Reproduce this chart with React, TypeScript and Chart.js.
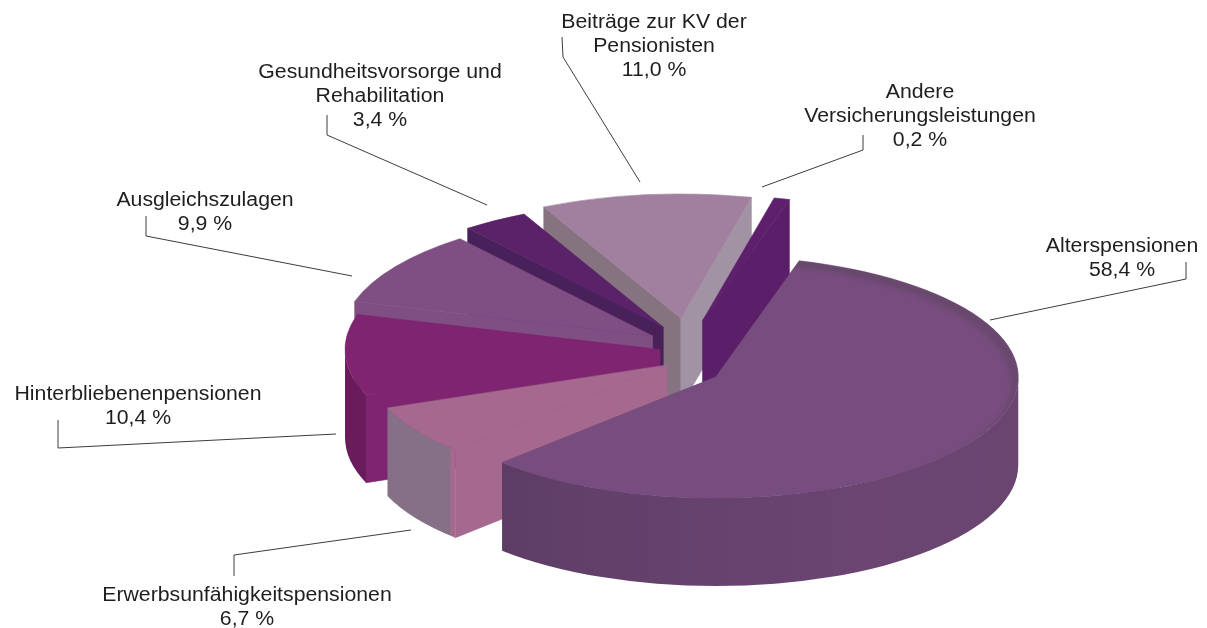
import React, { useEffect, useRef } from "react";
import { Chart, registerables } from "chart.js";

Chart.register(...registerables);

// Slices clockwise from the top, as labelled in the picture.
const categories = [
  ["Alterspensionen"],
  ["Erwerbsunfähigkeitspensionen"],
  ["Hinterbliebenenpensionen"],
  ["Ausgleichszulagen"],
  ["Gesundheitsvorsorge und", "Rehabilitation"],
  ["Beiträge zur KV der", "Pensionisten"],
  ["Andere", "Versicherungsleistungen"],
];
const printedPercent = [58.4, 6.7, 10.4, 9.9, 3.4, 11.0, 0.2];
// Wedge sizes as pictured: equal to the printed values, except that the
// 0,2 % wedge is visibly drawn wider than its value in the reference.
const wedgeShares = [58.4, 6.7, 10.4, 9.9, 3.4, 11.0, 0.8];

// Styling / projection of the exploded pie
const explode = [30, 27, 30, 45, 50, 80, 50];
const lift = [19, 7, -3, -6, -8, -2, -12];
const radiusScale = [0.96, 0.952, 1, 0.985, 1, 0.985, 1];
const topColors = ["#774c7e", "#a5688f", "#7e2470", "#7f4e83", "#5a2268", "#a17f9f", "#5e1f6c"];
const startWallColors = ["#5a3c62", "#a5688f", "#7e2470", "#7f4e83", "#48205a", "#85737f", "#4a1a58"];
const endWallColors = ["#5a3c62", "#867085", "#6a1b5c", "#6e4274", "#48205a", "#a192a4", "#5a1f68"];
const outerWallStops: [number, string][][] = [
  [[0, "#573a5f"], [0.3, "#62406a"], [0.75, "#6c4573"], [1, "#694570"]],
  [[0, "#867085"], [0.137, "#867085"], [0.139, "#a5688f"], [1, "#a5688f"]],
  [[0, "#6a1b5c"], [0.037, "#6a1b5c"], [0.04, "#7e2470"], [1, "#7e2470"]],
  [[0, "#6e4274"], [1, "#6e4274"]],
  [[0, "#48205a"], [1, "#48205a"]],
  [[0, "#85737f"], [1, "#a192a4"]],
  [[0, "#5a1f68"], [1, "#5a1f68"]],
];
const paintOrder = [5, 6, 4, 3, 2, 1, 0];
const squash = 0.4;
const depth = 88;
const pieRadius = 315;
const bevelColor = "#69496e";

const labelCenters = [
  [1122, 246.5], [247, 595.5], [138, 394.5], [205, 200.5], [380, 73], [654, 23], [920, 93],
];
const lineGap = 24;
const leaders = [
  [[1186, 262], [1186, 279], [990, 320]],
  [[234, 576], [234, 555], [411, 530]],
  [[58, 420], [58, 448], [336, 434]],
  [[146, 216], [146, 236], [352, 276]],
  [[327, 115], [327, 135], [487, 205]],
  [[562, 37], [563, 57], [640, 182]],
  [[863, 135], [863, 150], [762, 187]],
];

const piePlugin = {
  id: "extrudedPie",
  beforeDatasetsDraw(chart: any) {
    const { ctx } = chart;
    const arcs = chart.getDatasetMeta(0).data;
    for (const i of paintOrder) {
      const arc = arcs[i];
      const { x, y, startAngle: a0, endAngle: a1, outerRadius } = arc;
      const mid = (a0 + a1) / 2;
      const off = arc.options.offset;
      const ax = x + Math.cos(mid) * off;
      const ay = y + Math.sin(mid) * off * squash + lift[i];
      const r = outerRadius * radiusScale[i];
      const ry = r * squash;
      const pt = (a: number) => [ax + Math.cos(a) * r, ay + Math.sin(a) * ry];
      const face = (a: number, color: string) => {
        const [px, py] = pt(a);
        ctx.beginPath();
        ctx.moveTo(ax, ay);
        ctx.lineTo(px, py);
        ctx.lineTo(px, py + depth);
        ctx.lineTo(ax, ay + depth);
        ctx.closePath();
        ctx.fillStyle = color;
        ctx.strokeStyle = color;
        ctx.lineWidth = 0.6;
        ctx.fill();
        ctx.stroke();
      };
      if (Math.sin(a0 - Math.PI / 2) > 0) face(a0, startWallColors[i]);
      if (Math.sin(a1 + Math.PI / 2) > 0) face(a1, endWallColors[i]);
      const grad = ctx.createLinearGradient(ax - r, 0, ax + r, 0);
      for (const [p, c] of outerWallStops[i]) grad.addColorStop(p, c);
      for (let n = -1; n <= 1; n++) {
        const lo = Math.max(a0, 2 * Math.PI * n);
        const hi = Math.min(a1, Math.PI + 2 * Math.PI * n);
        if (hi > lo) {
          ctx.beginPath();
          ctx.ellipse(ax, ay, r, ry, 0, lo, hi, false);
          ctx.ellipse(ax, ay + depth, r, ry, 0, hi, lo, true);
          ctx.closePath();
          ctx.fillStyle = grad;
          ctx.fill();
        }
      }
      const topPath = () => {
        ctx.beginPath();
        ctx.moveTo(ax, ay);
        ctx.ellipse(ax, ay, r, ry, 0, a0, a1, false);
        ctx.closePath();
      };
      topPath();
      ctx.fillStyle = topColors[i];
      ctx.strokeStyle = topColors[i];
      ctx.lineWidth = 0.6;
      ctx.fill();
      ctx.stroke();
      if (i === 0) {
        // the soft dark bevel along the back rim of the largest slice
        ctx.save();
        topPath();
        ctx.clip();
        topPath();
        ctx.fillStyle = bevelColor;
        ctx.fill();
        ctx.filter = "blur(2px)";
        ctx.beginPath();
        ctx.ellipse(ax - 7, ay + 6, r, ry, 0, 0, 2 * Math.PI);
        ctx.fillStyle = topColors[i];
        ctx.fill();
        ctx.restore();
      }
    }
    return false;
  },
  afterDraw(chart: any) {
    const { ctx } = chart;
    ctx.save();
    ctx.strokeStyle = "#3c3c3c";
    ctx.lineWidth = 1;
    for (const pts of leaders) {
      ctx.beginPath();
      pts.forEach(([x, y], j) => (j ? ctx.lineTo(x, y) : ctx.moveTo(x, y)));
      ctx.stroke();
    }
    ctx.fillStyle = "#1e1e1e";
    ctx.font = '19.5px "Liberation Sans"';
    ctx.textAlign = "center";
    ctx.textBaseline = "middle";
    categories.forEach((lines, i) => {
      const [cx, cy] = labelCenters[i];
      const pct = printedPercent[i].toFixed(1).replace(".", ",") + " %";
      [...lines, pct].forEach((t, j) => {
        ctx.save();
        ctx.translate(cx, cy + j * lineGap);
        ctx.scale(1.09, 1);
        ctx.fillText(t, 0, 0);
        ctx.restore();
      });
    });
    ctx.restore();
  },
};

export default function App() {
  const ref = useRef<HTMLCanvasElement>(null);
  useEffect(() => {
    const chart = new Chart(ref.current!, {
      type: "pie",
      data: {
        labels: categories.map((l) => l.join(" ")),
        datasets: [
          {
            data: wedgeShares,
            backgroundColor: topColors,
            offset: explode,
            radius: pieRadius,
            borderWidth: 0,
          } as any,
        ],
      },
      options: {
        animation: false,
        responsive: false,
        rotation: 16,
        layout: { padding: { left: 173, top: 76 } },
        plugins: { legend: { display: false }, tooltip: { enabled: false } },
      },
      plugins: [piePlugin],
    });
    return () => chart.destroy();
  }, []);
  return (
    <canvas
      ref={ref}
      width={1207}
      height={628}
      style={{ position: "absolute", left: 0, top: 0, width: 1207, height: 628, background: "#fff" }}
    />
  );
}
